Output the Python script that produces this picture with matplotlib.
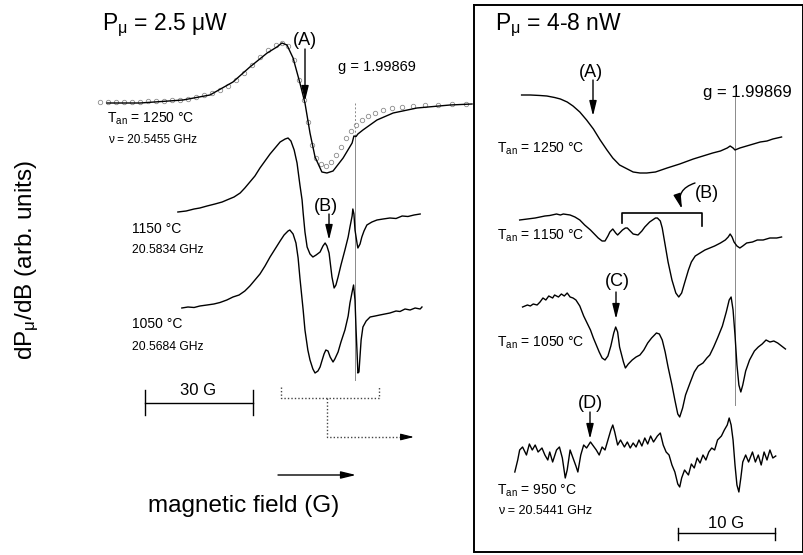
import matplotlib
matplotlib.use("Agg")
import matplotlib.pyplot as plt

plt.rcParams['font.family'] = ['Liberation Sans', 'DejaVu Sans']
plt.rcParams['mathtext.fontset'] = 'custom'
plt.rcParams['mathtext.rm'] = 'Liberation Sans'
plt.rcParams['mathtext.it'] = 'Liberation Sans'
plt.rcParams['mathtext.bf'] = 'Liberation Sans:bold'

# ---------------- data: field offset from g = 1.99869 line (G), signal (arb. units)
# Left panel, P = 2.5 uW
L1250_field = [-68.9, -59.7, -47.8, -40.3, -33.9, -29.2, -24.4, -21.7, -20.3, -18.9, -17.2, -15.3,
               -13.9, -12.5, -11.1, -9.2, -7.8, -6.1, -3.3, -0.8, -0.3, 0.3, 0.8, 2.2, 6.1, 10.6,
               17.2, 26.4, 32.5]
L1250_signal = [0.1, 0.1, 0.4, 0.9, 2.2, 3.7, 5.1, 5.7, 6.1, 5.9, 4.6, 2.1,
                0.1, -2.9, -5.3, -6.8, -6.9, -6.7, -5.4, -3.9, -3.2, -3.25, -3.0, -2.6, -1.6, -0.9,
                -0.4, -0.1, 0.0]
L1250_fit_field = [-70.8, -68.6, -66.4, -64.2, -61.9, -59.7, -57.5, -55.3, -53.1, -50.8, -48.6, -46.4,
                   -44.2, -41.9, -39.7, -37.5, -35.3, -33.1, -30.8, -28.6, -26.4, -24.2, -21.9, -20.3,
                   -18.6, -16.9, -15.6, -14.2, -13.1, -11.9, -10.8, -9.4, -8.1, -6.7, -5.3, -3.9,
                   -2.5, -1.1, 0.3, 1.9, 3.6, 5.6, 7.8, 10.3, 13.1, 16.1, 19.4, 23.1, 26.9, 30.8]
L1250_fit_signal = [0.2, 0.2, 0.2, 0.2, 0.2, 0.25, 0.3, 0.3, 0.35, 0.4, 0.45, 0.55,
                    0.7, 0.9, 1.1, 1.4, 1.8, 2.4, 3.1, 3.9, 4.7, 5.4, 5.9, 6.1,
                    5.8, 4.4, 2.4, 0.4, -1.8, -4.1, -5.4, -6.0, -6.2, -5.8, -5.1, -4.3,
                    -3.4, -2.7, -2.1, -1.6, -1.2, -0.9, -0.6, -0.4, -0.3, -0.2, -0.1, -0.05, 0.0, 0.05]

L1150_field = [-49.2, -46.9, -44.7, -43.1, -41.1, -38.9, -36.9, -35.6, -33.6, -31.9, -30.6, -29.2,
               -27.8, -26.4, -25.0, -23.6, -22.2, -20.8, -19.4, -18.6, -17.8, -16.9, -16.1, -15.3,
               -14.7, -14.4, -13.9, -13.3, -12.5, -11.7, -10.8, -9.7, -8.9, -8.3, -7.8, -7.2,
               -6.4, -5.8, -5.3, -4.7, -3.9, -2.8, -1.9, -1.4, -0.8, -0.6, -0.3, 0.0, 0.6, 0.8,
               1.4, 1.9, 2.5, 3.3, 4.7, 6.1, 7.8, 9.7, 11.4, 13.1, 14.7, 16.4, 18.1]
L1150_signal = [-0.1, 0.0, 0.2, 0.3, 0.5, 0.7, 0.9, 1.1, 1.4, 1.8, 2.3, 2.9,
                3.5, 4.3, 5.0, 5.7, 6.3, 6.9, 7.2, 7.3, 7.0, 6.1, 4.8, 2.6,
                1.1, -0.2, -2.1, -3.6, -4.3, -4.6, -4.4, -4.1, -3.5, -3.2, -3.5, -4.2,
                -6.6, -7.7, -7.4, -6.6, -5.4, -3.9, -2.6, -1.6, -0.5, 0.2, -0.3, -1.9, -3.3, -3.7,
                -3.3, -2.6, -2.0, -1.4, -1.1, -0.9, -0.8, -0.7, -0.75, -0.5, -0.55, -0.4, -0.3]

L1050_field = [-48.1, -46.4, -44.7, -43.1, -41.1, -39.2, -37.5, -35.6, -33.9, -32.2, -30.6, -29.2,
               -27.8, -26.4, -25.0, -23.6, -22.2, -20.8, -19.7, -18.6, -18.1, -17.2, -16.4, -15.8,
               -15.3, -14.4, -13.9, -13.1, -12.5, -11.7, -11.1, -10.3, -9.7, -9.2, -8.6, -8.1,
               -7.5, -6.9, -6.1, -5.6, -4.7, -3.9, -2.8, -1.9, -1.4, -0.8, -0.4, 0.0, 0.3, 0.6,
               0.8, 1.1, 1.7, 2.2, 3.1, 4.2, 5.6, 6.9, 8.3, 9.7, 11.4, 12.5, 13.9, 15.3, 16.7,
               18.1, 18.6]
L1050_signal = [-0.1, 0.0, -0.05, 0.1, 0.2, 0.3, 0.45, 0.7, 1.0, 1.2, 1.6, 2.1,
                2.7, 3.3, 4.1, 5.0, 5.8, 6.6, 7.2, 7.6, 7.7, 7.3, 6.4, 4.9,
                2.9, -0.3, -2.3, -4.3, -5.3, -6.2, -6.6, -6.4, -6.0, -5.4, -4.7, -4.3,
                -4.4, -5.0, -5.5, -5.2, -4.5, -3.5, -2.3, -0.9, 0.4, 1.5, 2.2, 0.7, -2.3, -4.8,
                -6.6, -6.5, -3.3, -2.0, -1.4, -1.0, -0.9, -0.8, -0.7, -0.6, -0.4, -0.45, -0.2, -0.3, -0.1,
                -0.2, 0.0]

# Right panel, P = 4-8 nW
R1250_field = [-22.0, -21.1, -20.1, -19.4, -18.6, -18.0, -17.3, -16.7, -16.0, -15.3, -14.6, -13.9,
               -13.2, -12.6, -11.9, -11.1, -10.5, -9.8, -9.1, -8.2, -7.0, -5.7, -4.3, -3.3,
               -2.3, -1.5, -0.8, -0.5, -0.2, 0.0, 0.5, 1.2, 1.9, 2.6, 3.3, 3.9, 4.8]
R1250_signal = [0.1, 0.1, 0.05, 0.0, -0.15, -0.3, -0.6, -1.0, -1.6, -2.4, -3.3, -4.4,
                -5.4, -6.2, -6.9, -7.3, -7.6, -7.7, -7.7, -7.6, -7.2, -6.8, -6.3, -6.0,
                -5.7, -5.5, -5.2, -5.0, -5.2, -5.4, -5.2, -5.0, -4.8, -4.6, -4.5, -4.3, -4.1]

R1150_field = [-22.2, -21.4, -20.6, -20.1, -19.6, -19.1, -18.4, -18.0, -17.7, -17.0, -16.5, -16.0,
               -15.5, -14.9, -14.4, -14.1, -13.7, -13.4, -13.1, -12.9, -12.6, -12.3, -12.1, -11.9,
               -11.6, -11.3, -11.1, -10.8, -10.5, -10.0, -9.6, -9.3, -8.8, -8.2, -8.0, -7.7,
               -7.5, -7.2, -6.9, -6.5, -6.1, -5.8, -5.5, -5.2, -4.8, -4.5, -4.1, -3.6, -3.1,
               -2.6, -2.1, -1.5, -1.0, -0.7, -0.5, -0.3, -0.1, 0.2, 0.5, 0.8, 1.2, 1.8, 2.3,
               2.9, 3.6, 4.3, 4.8]
R1150_signal = [-0.3, -0.2, -0.1, 0.0, 0.1, 0.15, 0.3, 0.2, 0.3, 0.2, 0.0, -0.3,
                -0.8, -1.3, -1.8, -2.1, -2.4, -2.4, -1.9, -1.5, -1.2, -1.6, -1.8, -1.6,
                -1.3, -1.1, -1.1, -1.4, -1.7, -1.8, -1.4, -1.0, -0.5, -0.1, -0.1, -0.4,
                -1.1, -2.8, -4.5, -6.3, -7.6, -8.0, -7.6, -6.6, -5.3, -4.5, -3.9, -3.6, -3.3,
                -3.1, -2.9, -2.6, -2.3, -2.0, -1.7, -2.0, -2.5, -2.9, -3.1, -2.9, -2.6, -2.5, -2.3,
                -2.3, -2.1, -2.1, -2.0]

R1050_field = [-21.9, -21.4, -21.1, -20.8, -20.4, -20.1, -19.8, -19.5, -19.2, -18.8, -18.6, -18.2,
               -17.9, -17.6, -17.3, -17.0, -16.7, -16.4, -16.0, -15.6, -15.3, -14.9, -14.6, -14.3,
               -14.0, -13.7, -13.4, -13.1, -12.8, -12.5, -12.3, -12.1, -11.9, -11.5, -11.3, -11.0,
               -10.6, -10.2, -9.8, -9.4, -9.0, -8.6, -8.1, -7.8, -7.5, -7.2, -6.9, -6.5, -6.2,
               -5.9, -5.7, -5.4, -5.1, -4.6, -4.2, -3.8, -3.3, -2.9, -2.6, -2.2, -1.8, -1.3,
               -0.9, -0.6, -0.4, -0.2, 0.0, 0.2, 0.4, 0.6, 0.8, 1.1, 1.5, 2.0, 2.4, 2.8, 3.2,
               3.6, 4.0, 4.4, 4.8, 5.2]
R1050_signal = [-0.2, 0.0, -0.1, 0.1, 0.0, 0.3, 0.7, 0.5, 0.9, 0.7, 1.0, 0.8,
                1.1, 0.9, 1.2, 0.8, 0.7, 0.5, -0.1, -1.1, -1.7, -2.5, -3.3, -4.0,
                -4.7, -5.3, -5.5, -5.1, -4.1, -2.8, -2.2, -2.7, -4.2, -5.7, -6.3, -5.9,
                -5.5, -5.2, -5.0, -4.5, -3.8, -3.3, -2.8, -2.9, -3.5, -4.7, -6.2, -8.0, -9.5,
                -10.9, -11.2, -10.3, -9.0, -7.7, -6.7, -6.1, -5.8, -5.3, -5.0, -4.2, -3.3, -2.1,
                -0.7, 0.5, 0.8, -0.5, -3.0, -6.0, -8.0, -8.7, -8.0, -6.6, -5.5, -4.6, -4.2, -3.9, -3.5,
                -3.7, -3.6, -3.8, -4.1, -4.4]

R950_field = [-22.7, -22.4, -22.2, -21.9, -21.5, -21.2, -20.9, -20.6, -20.3, -19.9, -19.6, -19.3,
              -19.1, -18.8, -18.4, -18.1, -17.8, -17.5, -17.3, -17.0, -16.7, -16.4, -16.2, -15.9,
              -15.6, -15.3, -14.9, -14.6, -14.3, -14.0, -13.7, -13.4, -13.1, -12.8, -12.6, -12.4,
              -12.1, -11.8, -11.4, -11.1, -10.8, -10.5, -10.2, -9.9, -9.6, -9.3, -9.0, -8.7,
              -8.4, -8.0, -7.7, -7.4, -7.1, -6.8, -6.5, -6.2, -5.9, -5.7, -5.5, -5.2, -4.8,
              -4.5, -4.2, -3.9, -3.6, -3.3, -3.0, -2.7, -2.4, -2.1, -1.8, -1.4, -1.1, -0.8,
              -0.6, -0.4, -0.2, 0.0, 0.2, 0.4, 0.6, 0.8, 1.1, 1.4, 1.8, 2.1, 2.4, 2.7, 3.0,
              3.3, 3.6, 3.9, 4.2]
R950_signal = [-2.2, -1.0, 0.0, 0.3, -0.5, 0.6, 0.0, 0.5, -0.2, 0.2, -0.5, -1.0,
               -0.2, -1.2, 0.0, 0.3, -0.8, -2.8, -2.0, 0.0, -0.8, -1.6, -2.2, -0.5,
               0.5, 0.2, 0.8, 0.4, 0.0, -0.5, 0.3, 0.0, 1.0, 2.0, 2.5, 1.8,
               0.5, 1.0, 0.3, 0.8, 0.2, 0.7, 0.3, 1.0, 0.4, 1.2, 0.6, 1.4,
               0.8, 1.4, 1.7, 0.5, -0.2, -0.5, -1.5, -2.2, -3.4, -3.7, -2.8, -2.0, -2.5,
               -1.4, -1.8, -0.8, -1.3, -0.5, -1.0, -0.2, 0.2, 0.0, 1.0, 1.4, 2.0, 2.5,
               3.2, 2.5, 1.0, -1.5, -3.5, -4.2, -2.8, -1.2, -0.5, -1.2, -0.2, -1.2, -0.5, -1.5, -0.2,
               -1.0, 0.0, -0.8, -0.6]

left_offsets = [-10.4, -21.1, -30.7]
right_offsets = [-9.6, -21.7, -30.5, -45.0]
left_scale_G = 30
right_scale_G = 10

# ---------------- figure
W, H = 804, 555
fig = plt.figure(figsize=(W / 100, H / 100), dpi=100)

def fx(p):
    return p / W

axL = fig.add_axes([fx(95), 0, fx(473) - fx(95), 1])
axL.set_xlim((95 - 355) / 3.6, (473 - 355) / 3.6)
axL.set_ylim(-55.5, 0)
axR = fig.add_axes([fx(473), 0, fx(804) - fx(473), 1])
axR.set_xlim((473 - 735) / 9.7, (804 - 735) / 9.7)
axR.set_ylim(-55.5, 0)
for a in (axL, axR):
    a.axis('off')
    a.patch.set_alpha(0)

lw = 1.0
# g lines
axL.plot([0, 0], [-10.3, -13.5], color='#8a8a8a', lw=0.7, ls=(0, (2, 2)), zorder=1)
axL.plot([0, 0], [-13.5, -38.0], color='#8a8a8a', lw=0.7, zorder=1)
axR.plot([0, 0], [-9.7, -40.5], color='#8a8a8a', lw=0.7, zorder=1)

# left spectra
axL.plot(L1250_field, [s + left_offsets[0] for s in L1250_signal], color='k', lw=lw, zorder=3)
axL.plot(L1250_fit_field, [s + left_offsets[0] for s in L1250_fit_signal], ls='none', marker='o',
         ms=3.2, mfc='none', mec='#8c8c8c', mew=0.6, zorder=2)
axL.plot(L1150_field, [s + left_offsets[1] for s in L1150_signal], color='k', lw=lw, zorder=3)
axL.plot(L1050_field, [s + left_offsets[2] for s in L1050_signal], color='k', lw=lw, zorder=3)

# right spectra
for f, s, o in [(R1250_field, R1250_signal, right_offsets[0]),
                (R1150_field, R1150_signal, right_offsets[1]),
                (R1050_field, R1050_signal, right_offsets[2]),
                (R950_field, R950_signal, right_offsets[3])]:
    axR.plot(f, [v + o for v in s], color='k', lw=lw, zorder=3)

# scale bars
x0 = (145 - 355) / 3.6
axL.plot([x0, x0 + left_scale_G], [-40.3, -40.3], color='k', lw=1.0)
axL.plot([x0, x0], [-39.0, -41.5], color='k', lw=1.0)
axL.plot([x0 + left_scale_G] * 2, [-39.0, -41.5], color='k', lw=1.0)
x1 = (678 - 735) / 9.7
axR.plot([x1, x1 + right_scale_G], [-53.3, -53.3], color='k', lw=1.0)
axR.plot([x1, x1], [-52.8, -54.0], color='k', lw=1.0)
axR.plot([x1 + right_scale_G] * 2, [-52.8, -54.0], color='k', lw=1.0)

# ---------------- overlay for labels (pixel coordinates)
ov = fig.add_axes([0, 0, 1, 1])
ov.set_xlim(0, W)
ov.set_ylim(H, 0)
ov.axis('off')
ov.patch.set_alpha(0)

# right box
ov.plot([474, 803, 803, 474, 474], [5, 5, 552, 552, 5], color='k', lw=1.4, solid_joinstyle='miter')

def txt(x, y, s, size, ha='left', va='baseline', **kw):
    ov.text(x, y, s, fontsize=size, ha=ha, va=va, color='k', **kw)

def arrow(x0, y0, x1, y1, **kw):
    ov.annotate('', xy=(x1, y1), xytext=(x0, y0),
                arrowprops=dict(arrowstyle='-|>,head_length=0.9,head_width=0.22', color='k',
                                lw=1.0, shrinkA=0, shrinkB=0, **kw))

# left panel texts
txt(102, 30, r'P$_{\mu}$ = 2.5 μW', 16.5)
txt(305, 45, '(A)', 13, ha='center')
arrow(305, 49, 305, 101)
txt(338, 71, 'g = 1.99869', 10.5)
txt(107, 123, r'T$_{\mathrm{an}}$ = 1250 °C', 10)
txt(108, 143, 'ν = 20.5455 GHz', 8.5)
txt(326, 211, '(B)', 13, ha='center')
arrow(329, 214, 329, 240)
txt(132, 233, '1150 °C', 10)
txt(132, 253, '20.5834 GHz', 8.7)
txt(132, 328, '1050 °C', 10)
txt(132, 350, '20.5684 GHz', 8.7)
txt(198, 395, '30 G', 12, ha='center')

# dotted bracket and arrow
dot = dict(color='#444444', lw=1.0, ls=(0, (1, 1.5)))
ov.plot([281, 281, 379, 379], [387, 398, 398, 387], **dot)
ov.plot([327, 327, 405], [398, 437, 437], **dot)
ov.annotate('', xy=(414, 437), xytext=(403, 437),
            arrowprops=dict(arrowstyle='-|>,head_length=0.8,head_width=0.2', color='k', lw=0.8,
                            shrinkA=0, shrinkB=0))

# field arrow
arrow(278, 475, 356, 475)
txt(148, 512, 'magnetic field (G)', 17.5)
ov.text(27, 260, r'dP$_{\mu}$/dB (arb. units)', fontsize=17.5, rotation=90, ha='center', va='center')

# right panel texts
txt(495, 30, r'P$_{\mu}$ = 4-8 nW', 16.5)
txt(591, 77, '(A)', 13, ha='center')
arrow(593, 80, 593, 116)
txt(703, 97, 'g = 1.99869', 12)
txt(497, 153, r'T$_{\mathrm{an}}$ = 1250 °C', 10)
txt(497, 240, r'T$_{\mathrm{an}}$ = 1150 °C', 10)
txt(707, 198, '(B)', 13, ha='center')
ov.annotate('', xy=(682, 209), xytext=(695, 183),
            arrowprops=dict(arrowstyle='-|>,head_length=0.9,head_width=0.22', color='k', lw=1.0,
                            shrinkA=0, shrinkB=0, connectionstyle='arc3,rad=0.5'))
ov.plot([622, 622, 702, 702], [223, 213, 213, 226], color='k', lw=1.2)
txt(617, 286, '(C)', 13, ha='center')
arrow(616, 292, 616, 319)
txt(497, 347, r'T$_{\mathrm{an}}$ = 1050 °C', 10)
txt(590, 408, '(D)', 13, ha='center')
arrow(590, 412, 590, 439)
txt(497, 495, r'T$_{\mathrm{an}}$ = 950 °C', 10)
txt(498, 514, 'ν = 20.5441 GHz', 9)
txt(726, 528, '10 G', 12, ha='center')

fig.savefig('out.png', dpi=100)
